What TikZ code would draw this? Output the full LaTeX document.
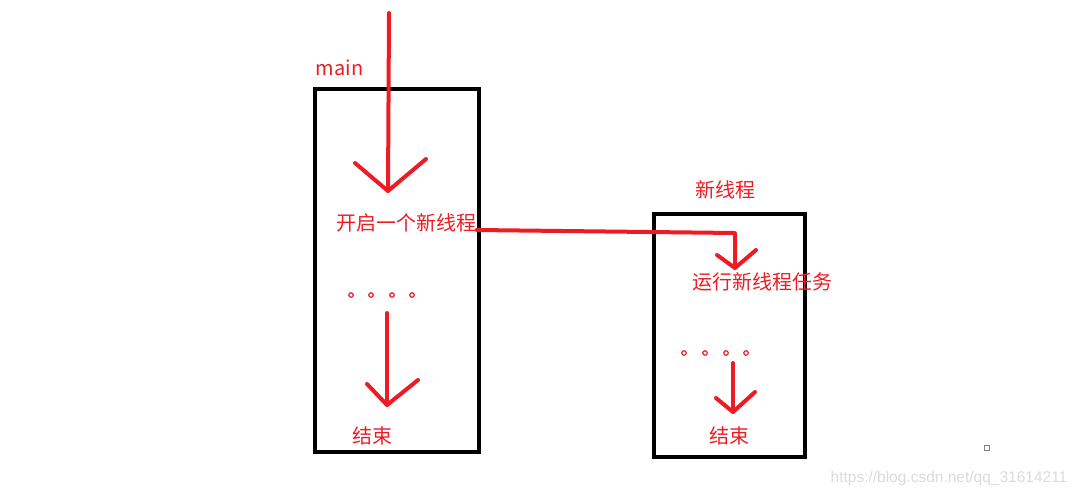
\documentclass[tikz,border=0pt]{standalone}
\usepackage{fontspec}
\newfontfamily\cjk{Noto Sans CJK SC}
\newfontfamily\markfont{Liberation Sans}
\definecolor{paintred}{RGB}{237,28,36}
\usetikzlibrary{calc}
\begin{document}
\begin{tikzpicture}[x=1pt,y=-1pt,
  box/.style={draw=black,line width=3.5pt,inner sep=0pt},
  pen/.style={draw=paintred,line width=4pt,line cap=round,line join=round},
  lbl/.style={text=paintred,font=\cjk\fontsize{20}{24}\selectfont,inner sep=0pt},
  dot/.style={draw=paintred,line width=1.2pt,circle,inner sep=0pt,minimum size=4.5pt}]
\useasboundingbox (0,0) rectangle (1079,496);
\node[box,minimum width=164pt,minimum height=363pt] (mainbox) at (397,270.5) {};
\node[box,minimum width=151pt,minimum height=243pt] (threadbox) at (729.5,335.5) {};
\node[lbl] (mainlbl) at (339.5,68) {main};
\node[lbl] (threadlbl) at (725,190) {新线程};
\node[lbl] (start) at (406.5,223) {开启一个新线程};
\node[lbl] (task) at (762,282) {运行新线程任务};
\node[lbl] (end1) at (372,436) {结束};
\node[lbl] (end2) at (729,436) {结束};
\foreach \x [count=\i] in {351,371,392,412} \node[dot] (da\i) at (\x,295) {};
\foreach \x [count=\i] in {684,705,726,746} \node[dot] (db\i) at (\x,353) {};
% main flow
\coordinate (entry) at (389,13);
\coordinate (tipa) at (388,191);
\draw[pen] (entry) -- (tipa);
\draw[pen] ($(tipa)+(-33,-28)$) -- (tipa) -- ++(38,-32);
\coordinate (fromdots) at (387,313);
\coordinate (tipb) at (387,405);
\draw[pen] (fromdots) -- (tipb);
\draw[pen] ($(tipb)+(-20,-21)$) -- (tipb) -- ++(31,-25);
% new thread
\coordinate (tipc) at (735,268);
\draw[pen] ([yshift=-7pt]start.east) -- (735,233) -- (tipc);
\draw[pen] ($(tipc)+(-18,-13)$) -- (tipc) -- ++(21,-18);
\coordinate (fromdotsb) at (733,363);
\coordinate (tipd) at (733,412);
\draw[pen] (fromdotsb) -- (tipd);
\draw[pen] ($(tipd)+(-17,-14)$) -- (tipd) -- ++(22,-20);
\node[draw=gray,line width=0.9pt,minimum size=5pt,inner sep=0pt] (mark) at (987,448) {};
\node[text=black!14,font=\markfont\fontsize{15.5}{17}\selectfont,inner sep=0pt] (url) at (949,478) {https://blog.csdn.net/qq\_31614211};
\end{tikzpicture}
\end{document}
